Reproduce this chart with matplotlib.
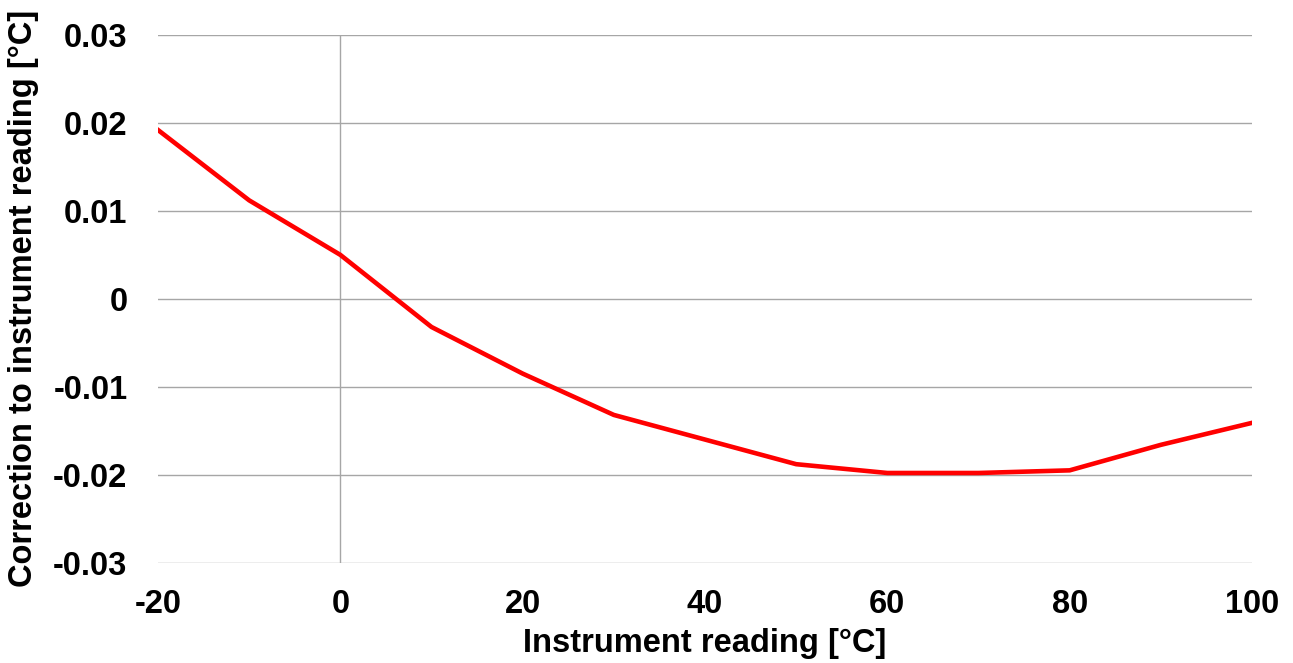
import matplotlib
matplotlib.use("Agg")
import matplotlib.pyplot as plt

x_vals = [-20, -10, 0, 10, 20, 30, 40, 50, 60, 70, 80, 90, 100]
corrections = [0.0192, 0.0112, 0.0050, -0.0032, -0.0085, -0.0132, -0.0160, -0.0188, -0.0198, -0.0198, -0.0195, -0.0166, -0.0141]
x_ticks = [-20, 0, 20, 40, 60, 80, 100]
y_ticks = [-0.03, -0.02, -0.01, 0, 0.01, 0.02, 0.03]
y_tick_labels = ["-0.03", "-0.02", "-0.01", "0", "0.01", "0.02", "0.03"]

plt.rcParams['font.family'] = ['Liberation Sans', 'DejaVu Sans']
plt.rcParams['font.weight'] = 'bold'

fig = plt.figure(figsize=(12.93, 6.63), dpi=100)
ax = fig.add_axes([0.1222, 0.1513, 0.8461, 0.7959])

for y in y_ticks:
    ax.axhline(y, color='#a6a6a6', linewidth=1.0, zorder=1)
ax.axvline(0, color='#a6a6a6', linewidth=1.0, zorder=1)

ax.plot(x_vals, corrections, color='#ff0000', linewidth=3.3, zorder=3, solid_joinstyle='round')

ax.set_xlim(-20, 100)
ax.set_ylim(-0.03, 0.03)
ax.set_xticks(x_ticks)
ax.set_xticklabels([str(t) for t in x_ticks])
ax.set_yticks(y_ticks)
ax.set_yticklabels(y_tick_labels)
ax.tick_params(axis='both', length=0, labelsize=23.5)
ax.tick_params(axis='x', pad=19)
ax.tick_params(axis='y', pad=22)
for lbl in ax.get_xticklabels() + ax.get_yticklabels():
    lbl.set_fontweight('bold')
for s in ax.spines.values():
    s.set_visible(False)

ax.set_xlabel('Instrument reading [°C]', fontsize=23.5, fontweight='bold', labelpad=6)
ax.set_ylabel('Correction to instrument reading [°C]', fontsize=23.5, fontweight='bold', labelpad=10)

fig.savefig('out.png', dpi=100)
